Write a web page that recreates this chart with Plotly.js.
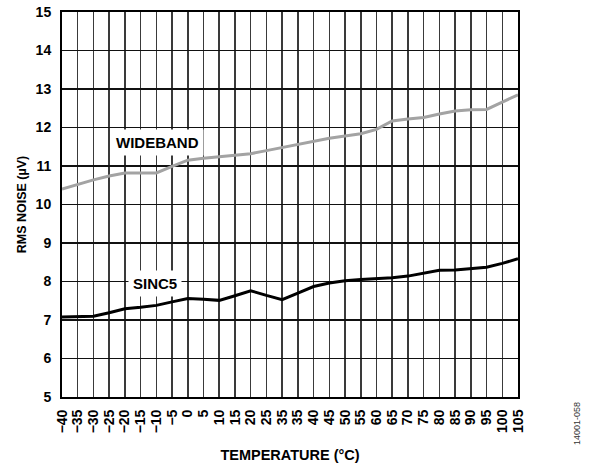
<!DOCTYPE html>
<html>
<head>
<meta charset="utf-8">
<script src="https://cdn.plot.ly/plotly-3.0.1.min.js"></script>
<style>
  html, body { margin: 0; padding: 0; background: #fff; }
  #chart { width: 593px; height: 463px; }
</style>
</head>
<body>
<div id="chart"></div>
<script>
// Temperature (°C)
const temperature = [-40, -35, -30, -25, -20, -15, -10, -5, 0, 5, 10, 15, 20, 25, 30, 35, 40, 45, 50, 55, 60, 65, 70, 75, 80, 85, 90, 95, 100, 105];
// Tick labels as printed on the original (note the repeated "35")
const tickLabels = ["\u221240", "\u221235", "\u221230", "\u221225", "\u221220", "\u221215", "\u221210", "\u22125", "0", "5", "10", "15", "20", "25", "35", "35", "40", "45", "50", "55", "60", "65", "70", "75", "80", "85", "90", "95", "100", "105"];
// RMS noise (µV)
const wideband = [10.40, 10.53, 10.64, 10.74, 10.82, 10.82, 10.82, 10.99, 11.15, 11.20, 11.24, 11.28, 11.32, 11.40, 11.48, 11.57, 11.65, 11.72, 11.78, 11.84, 11.95, 12.17, 12.22, 12.26, 12.35, 12.43, 12.46, 12.47, 12.66, 12.85];
const sinc5 = [7.08, 7.09, 7.10, 7.19, 7.29, 7.33, 7.38, 7.47, 7.56, 7.54, 7.51, 7.63, 7.76, 7.64, 7.53, 7.70, 7.87, 7.96, 8.02, 8.05, 8.07, 8.10, 8.14, 8.22, 8.29, 8.30, 8.33, 8.37, 8.47, 8.59];
const yTicks = [5, 6, 7, 8, 9, 10, 11, 12, 13, 14, 15];

const FONT = "Liberation Sans, Arial, Helvetica, sans-serif";
const W = 593, H = 463;
const M = { l: 62, r: 75, t: 12, b: 66 };

const traces = [
  {
    x: temperature, y: wideband, type: "scatter", mode: "lines", name: "WIDEBAND",
    line: { color: "#a3a3a3", width: 3 }, hoverinfo: "skip"
  },
  {
    x: temperature, y: sinc5, type: "scatter", mode: "lines", name: "SINC5",
    line: { color: "#000000", width: 3 }, hoverinfo: "skip"
  }
];

const pw = W - M.l - M.r, ph = H - M.t - M.b;

const layout = {
  width: W, height: H,
  margin: M,
  paper_bgcolor: "#ffffff", plot_bgcolor: "#ffffff",
  showlegend: false,
  font: { family: FONT, color: "#000" },
  xaxis: {
    range: [-40, 105],
    tickvals: temperature, ticktext: tickLabels,
    tickangle: -90,
    ticks: "", ticklabelstandoff: 5,
    tickfont: { family: FONT, size: 14, weight: "bold", color: "#000" },
    showgrid: true, gridcolor: "#3a3a3a", gridwidth: 1.5,
    zeroline: false,
    showline: true, mirror: true, linecolor: "#000", linewidth: 2,
    title: { text: "TEMPERATURE (°C)", font: { family: FONT, size: 14.5, weight: "bold", color: "#000" }, standoff: 18 },
    fixedrange: true
  },
  yaxis: {
    range: [5, 15],
    tickvals: yTicks,
    ticks: "", ticklabelstandoff: 6,
    tickfont: { family: FONT, size: 14, weight: "bold", color: "#000" },
    showgrid: true, gridcolor: "#111111", gridwidth: 1.5,
    zeroline: false,
    showline: true, mirror: true, linecolor: "#000", linewidth: 2,
    title: { text: "RMS NOISE (µV)", font: { family: FONT, size: 12.5, weight: "bold", color: "#000" }, standoff: 6 },
    fixedrange: true
  },
  annotations: [
    {
      x: -9.5, y: 11.6, xref: "x", yref: "y", text: "WIDEBAND", showarrow: false,
      xanchor: "center", yanchor: "middle",
      font: { family: FONT, size: 15, weight: "bold", color: "#000" },
      bgcolor: "#ffffff", borderpad: 4
    },
    {
      x: -10.5, y: 7.96, xref: "x", yref: "y", text: "SINC5", showarrow: false,
      xanchor: "center", yanchor: "middle",
      font: { family: FONT, size: 15, weight: "bold", color: "#000" },
      bgcolor: "#ffffff", borderpad: 4
    },
    {
      x: (577 - M.l) / pw, y: 1 - (424 - M.t) / ph, xref: "paper", yref: "paper",
      xanchor: "center", yanchor: "middle",
      text: "14001-058", showarrow: false, textangle: -90,
      font: { family: FONT, size: 9, color: "#333" }
    }
  ]
};

Plotly.newPlot("chart", traces, layout, { staticPlot: true, displayModeBar: false });
</script>
</body>
</html>
